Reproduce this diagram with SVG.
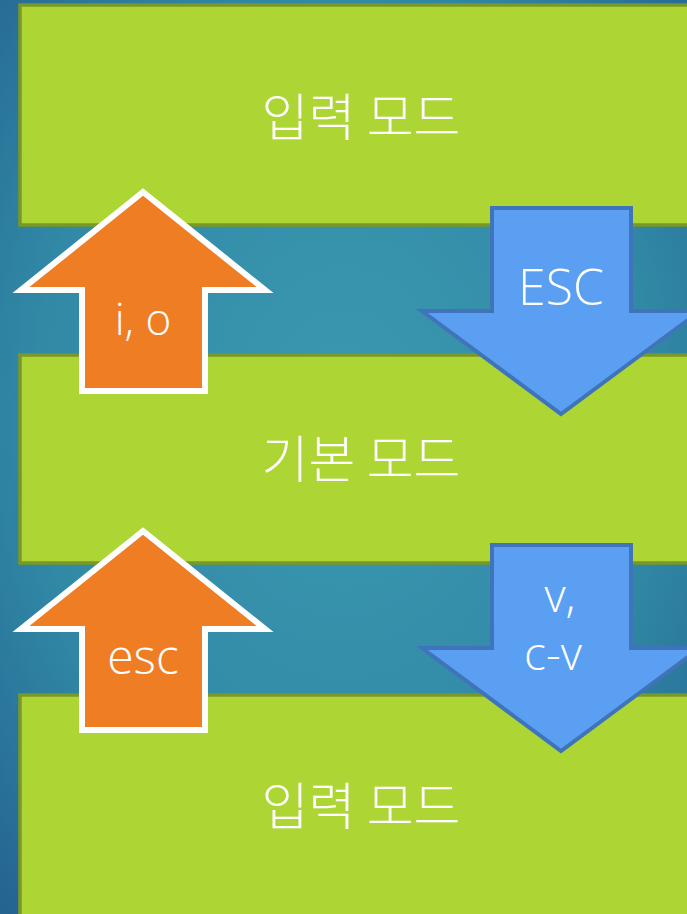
<svg xmlns="http://www.w3.org/2000/svg" width="687" height="914" viewBox="0 0 687 914">
<defs>
<radialGradient id="bg" cx="0.5" cy="0.45" r="0.75">
<stop offset="0" stop-color="#3b98b0"/>
<stop offset="0.6" stop-color="#3189a6"/>
<stop offset="1" stop-color="#24628f"/>
</radialGradient>
<style>
.box{fill:#add534;stroke:#7a9824;stroke-width:3.5}
.mode{fill:#fff;font-family:"Noto Sans CJK KR","Noto Sans",sans-serif;font-size:51px;font-weight:300;text-anchor:middle;dominant-baseline:central}
.up{fill:#ef7d24;stroke:#fff;stroke-width:6}
.down{fill:#5a9ff2;stroke:#3f74ba;stroke-width:4}
.lbl{fill:#fff;font-family:"Open Sans","Liberation Sans",sans-serif;font-weight:300;text-anchor:middle}
</style>
</defs>
<rect width="687" height="914" fill="url(#bg)"/>
<g id="node-input-top">
<rect class="box" x="20" y="5" width="690" height="220"/>
<text class="mode" x="361" y="114">입력 모드</text>
</g>
<g id="node-normal">
<rect class="box" x="20" y="355" width="690" height="208"/>
<text class="mode" x="361" y="456">기본 모드</text>
</g>
<g id="node-input-bottom">
<rect class="box" x="20" y="695" width="690" height="230"/>
<text class="mode" x="361" y="803">입력 모드</text>
</g>
<g id="connectors">
<g id="edge-io">
<path class="up" d="M143,192 L265,290 L205,290 L205,391 L82,391 L82,290 L21,290 Z"/>
<text class="lbl" x="143" y="335" font-size="44">i, o</text>
</g>
<g id="edge-ESC">
<path class="down" d="M492,208 L631,208 L631,311 L700,311 L561,414 L422,311 L492,311 Z"/>
<text class="lbl" x="561" y="305" font-size="50">ESC</text>
</g>
<g id="edge-esc">
<path class="up" d="M143,531 L265,629 L205,629 L205,730 L82,730 L82,629 L21,629 Z"/>
<text class="lbl" x="143" y="674" font-size="48">esc</text>
</g>
<g id="edge-v">
<path class="down" d="M492,545 L631,545 L631,648 L700,648 L561,751 L422,648 L492,648 Z"/>
<text class="lbl" x="560" y="612" font-size="46">v,</text>
<text class="lbl" x="553" y="670" font-size="46">c-v</text>
</g>
</g>
</svg>
